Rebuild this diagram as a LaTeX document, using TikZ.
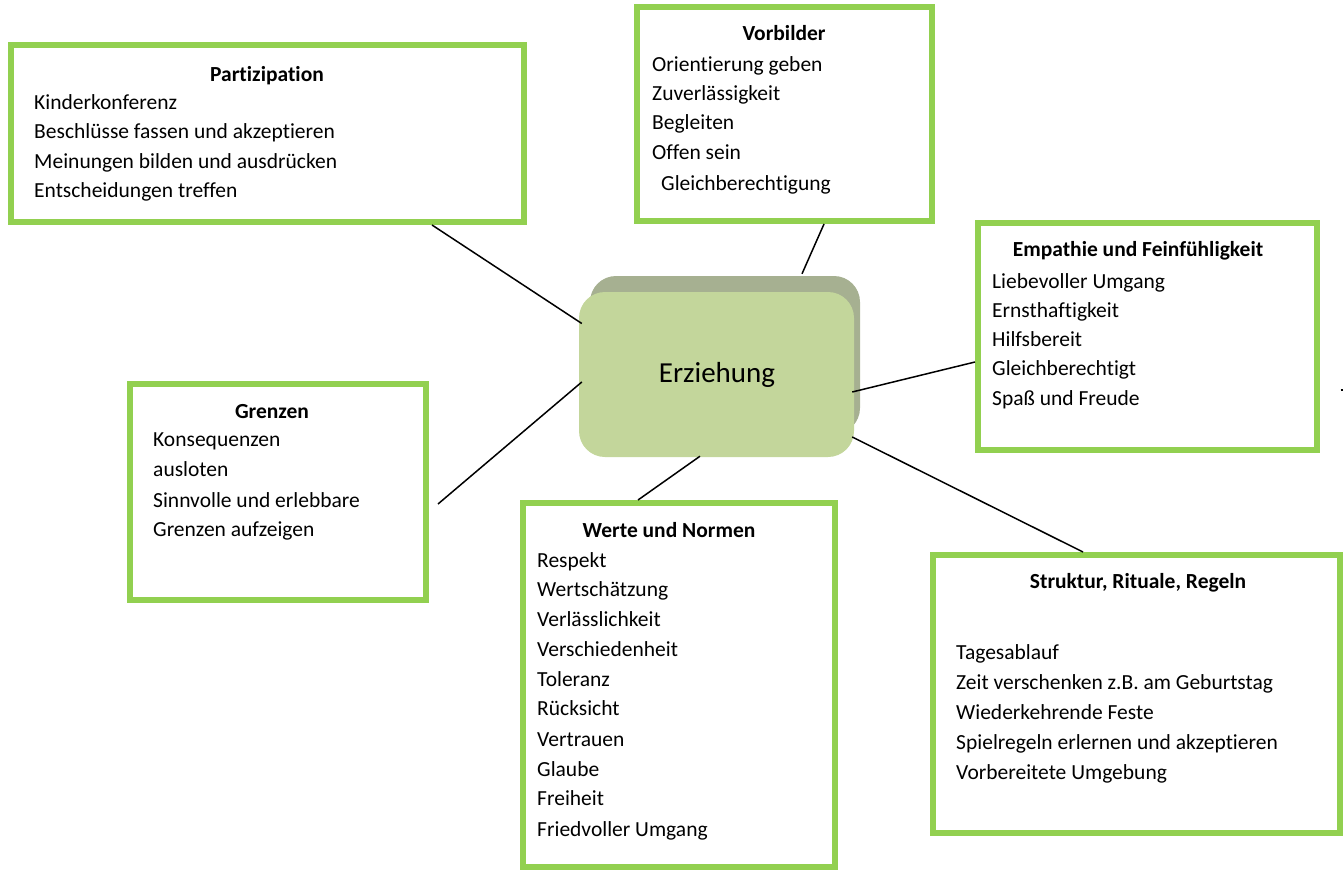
\documentclass[tikz,border=0pt]{standalone}
\usepackage{fontspec}
\setmainfont{Carlito}[Ligatures=NoCommon]
\usetikzlibrary{calc}
\definecolor{boxgreen}{RGB}{146,208,80}
\definecolor{ctrfill}{RGB}{195,214,155}
\definecolor{ctrshade}{RGB}{166,176,145}
\tikzset{
  gbox/.style={draw=boxgreen, line width=6pt, fill=white, rectangle, inner sep=0pt},
  ttl/.style={anchor=base, inner sep=0pt, font=\fontsize{21.5}{26}\selectfont\bfseries},
  itm/.style={anchor=base west, inner sep=0pt, font=\fontsize{21.5}{26}\selectfont},
  conn/.style={draw=black, line width=1.5pt},
}
\begin{document}
\begin{tikzpicture}[x=1pt,y=-1pt]
\useasboundingbox (0,0) rectangle (1343,870);
% central box
\node[rectangle, rounded corners=26pt, fill=ctrshade, minimum width=270pt, minimum height=158pt, inner sep=0pt] (ctrsh) at (725,355) {};
\node[rectangle, rounded corners=26pt, fill=ctrfill, minimum width=275pt, minimum height=165pt, inner sep=0pt] (ctr) at (716.5,374.5) {};
\node[anchor=base, inner sep=0pt, font=\fontsize{29}{34}\selectfont] (ctrt) at (717,382) {Erziehung};
% boxes
\node[gbox, minimum width=513pt, minimum height=177pt] (part) at (267.5,133.5) {};
\node[gbox, minimum width=295pt, minimum height=214pt] (vorb) at (784.5,114) {};
\node[gbox, minimum width=339pt, minimum height=227pt] (emp) at (1147.5,336.5) {};
\node[gbox, minimum width=296pt, minimum height=216pt] (gren) at (278,492) {};
\node[gbox, minimum width=312pt, minimum height=364pt] (werte) at (679,685) {};
\node[gbox, minimum width=407pt, minimum height=278pt] (strk) at (1136.5,694) {};
% Partizipation
\node[ttl] (part-t) at (267,81) {Partizipation};
\node[itm] (part-1) at (34,109) {Kinderkonferenz};
\node[itm] (part-2) at (34,138) {Beschlüsse fassen und akzeptieren};
\node[itm] (part-3) at (34,168) {Meinungen bilden und ausdrücken};
\node[itm] (part-4) at (34,197) {Entscheidungen treffen};
% Vorbilder
\node[ttl] (vorb-t) at (784,40) {Vorbilder};
\node[itm] (vorb-1) at (652,71) {Orientierung geben};
\node[itm] (vorb-2) at (652,100) {Zuverlässigkeit};
\node[itm] (vorb-3) at (652,129) {Begleiten};
\node[itm] (vorb-4) at (652,159) {Offen sein};
\node[itm] (vorb-5) at (661,190) {Gleichberechtigung};
% Empathie
\node[ttl] (emp-t) at (1138,256) {Empathie und Feinfühligkeit};
\node[itm] (emp-1) at (992,288) {Liebevoller Umgang};
\node[itm] (emp-2) at (992,317) {Ernsthaftigkeit};
\node[itm] (emp-3) at (992,346) {Hilfsbereit};
\node[itm] (emp-4) at (992,375) {Gleichberechtigt};
\node[itm] (emp-5) at (992,405) {Spaß und Freude};
% Grenzen
\node[ttl] (gren-t) at (272,418) {Grenzen};
\node[itm] (gren-1) at (153,446) {Konsequenzen};
\node[itm] (gren-2) at (153,476) {ausloten};
\node[itm] (gren-3) at (153,507) {Sinnvolle und erlebbare};
\node[itm] (gren-4) at (153,536) {Grenzen aufzeigen};
% Werte und Normen
\node[ttl] (werte-t) at (669,537) {Werte und Normen};
\node[itm] (werte-1) at (537,567) {Respekt};
\node[itm] (werte-2) at (537,596) {Wertschätzung};
\node[itm] (werte-3) at (537,626) {Verlässlichkeit};
\node[itm] (werte-4) at (537,656) {Verschiedenheit};
\node[itm] (werte-5) at (537,686) {Toleranz};
\node[itm] (werte-6) at (537,715) {Rücksicht};
\node[itm] (werte-7) at (537,746) {Vertrauen};
\node[itm] (werte-8) at (537,776) {Glaube};
\node[itm] (werte-9) at (537,805) {Freiheit};
\node[itm] (werte-10) at (537,836) {Friedvoller Umgang};
% Struktur
\node[ttl] (strk-t) at (1138,588) {Struktur, Rituale, Regeln};
\node[itm] (strk-1) at (956,659) {Tagesablauf};
\node[itm] (strk-2) at (956,689) {Zeit verschenken z.B. am Geburtstag};
\node[itm] (strk-3) at (956,719) {Wiederkehrende Feste};
\node[itm] (strk-4) at (956,749) {Spielregeln erlernen und akzeptieren};
\node[itm] (strk-5) at (956,779) {Vorbereitete Umgebung};
% connectors
\draw[conn] ($(part.south west)+(424,0)$) -- ($(ctr.west)+(3,-51)$);
\draw[conn] ($(vorb.south)+(39.5,0)$) -- ($(ctrsh.north)+(77,-2)$);
\draw[conn] ($(emp.west)+(0,25.5)$) -- ($(ctr.east)+(-2,17.5)$);
\draw[conn] ($(gren.east)+(9,12)$) -- ($(ctr.west)+(3,7.5)$);
\draw[conn] ($(werte.north)+(-41,0)$) -- ($(ctr.south)+(-16.5,-1)$);
\draw[conn] ($(strk.north)+(-53.5,0)$) -- ($(ctr.east)+(-2,62.5)$);
\coordinate (stray) at (1340.5,390);
\draw[line width=1.2pt] (stray) -- ++(2.5,0);
\end{tikzpicture}
\end{document}
